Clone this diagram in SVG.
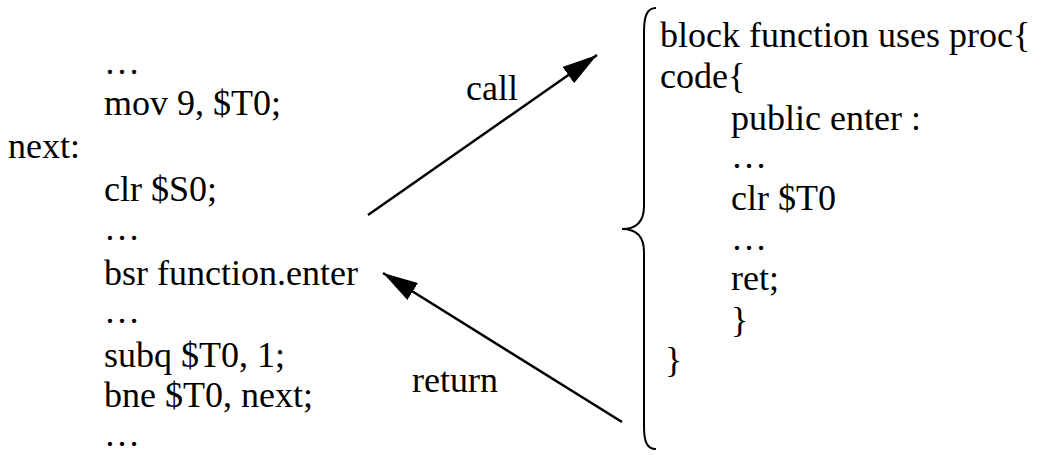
<svg xmlns="http://www.w3.org/2000/svg" width="1043" height="455" viewBox="0 0 1043 455">
  <style>
    text { font-family: "Liberation Serif", "Times New Roman", Times, "DejaVu Serif", serif; font-size: 36px; fill: #000; }
    .line { stroke: #000; stroke-width: 2.5; fill: none; }
    .brace { stroke: #000; stroke-width: 2; fill: none; }
  </style>
  <defs>
    <marker id="head" viewBox="0 0 35 20" refX="35" refY="10" markerWidth="35" markerHeight="20" markerUnits="userSpaceOnUse" orient="auto">
      <path d="M0,0 L35,10 L0,20 Z" fill="#000"/>
    </marker>
  </defs>
  <rect width="1043" height="455" fill="#fff"/>

  <!-- caller code -->
  <g id="caller" font-family="'Liberation Serif', 'Times New Roman', serif">
    <text x="104" y="74">…</text>
    <text x="104" y="115">mov 9, $T0;</text>
    <text x="8" y="158">next:</text>
    <text x="104" y="201">clr $S0;</text>
    <text x="104" y="240">…</text>
    <text x="104" y="285">bsr function.enter</text>
    <text x="104" y="323">…</text>
    <text x="104" y="367">subq $T0, 1;</text>
    <text x="104" y="407">bne $T0, next;</text>
    <text x="104" y="446">…</text>
  </g>

  <!-- callee block -->
  <g id="callee" font-family="'Liberation Serif', 'Times New Roman', serif">
    <path class="brace" d="M656,8 C647,8 644,16 644,32 L644,206 C644,222 636,229 622,229 C636,229 644,236 644,252 L644,426 C644,442 647,449 656,449"/>
    <text x="660" y="47">block function uses proc{</text>
    <text x="660" y="88">code{</text>
    <text x="731" y="130">public enter :</text>
    <text x="731" y="168">…</text>
    <text x="731" y="210">clr $T0</text>
    <text x="731" y="250">…</text>
    <text x="731" y="290">ret;</text>
    <text x="731" y="332">}</text>
    <text x="665" y="372">}</text>
  </g>

  <!-- connectors -->
  <g id="connectors" font-family="'Liberation Serif', 'Times New Roman', serif">
    <line class="line" x1="368" y1="215" x2="597" y2="55" marker-end="url(#head)"/>
    <text x="466" y="100">call</text>
    <line class="line" x1="622" y1="422" x2="383" y2="273" marker-end="url(#head)"/>
    <text x="412" y="392">return</text>
  </g>
</svg>
